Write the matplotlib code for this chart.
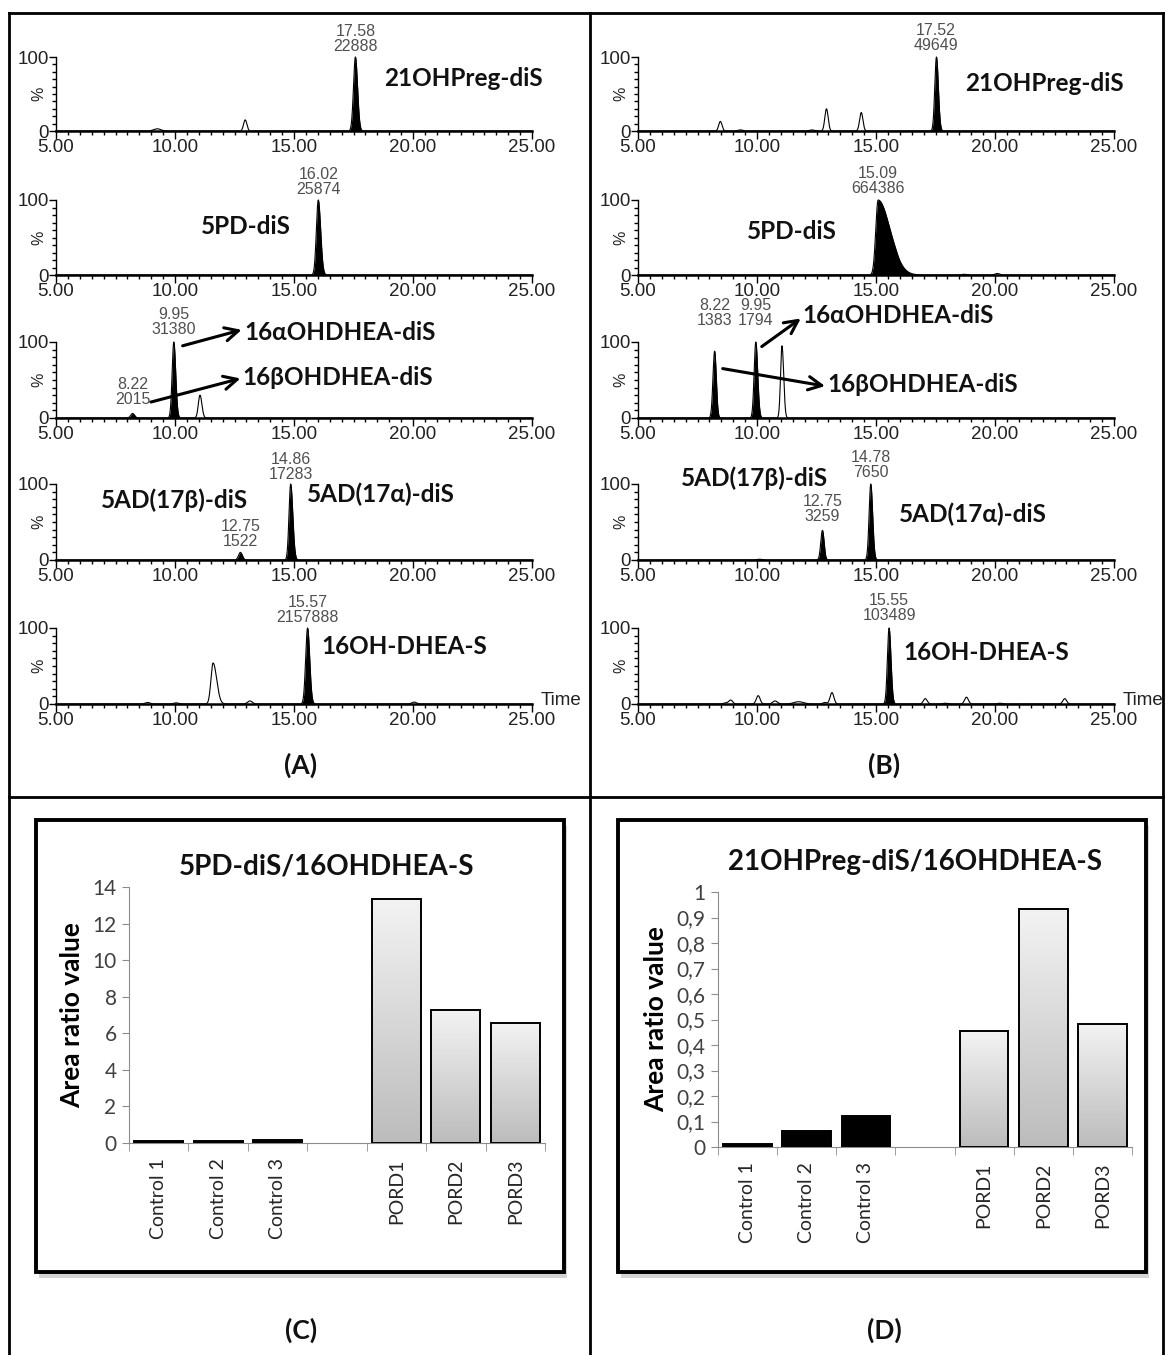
import numpy as np
import matplotlib
matplotlib.use("Agg")
import matplotlib.pyplot as plt
from matplotlib.patches import Rectangle
from matplotlib.lines import Line2D
from matplotlib.colors import LinearSegmentedColormap
from matplotlib.ticker import FixedLocator, MultipleLocator, FuncFormatter

# ---- chromatogram peaks: (retention time, height %, left width, right width, integrated) ----
peaks_A1 = [(9.25, 3, 0.15, 0.15, False), (12.95, 15, 0.07, 0.07, False), (17.58, 100, 0.08, 0.09, True)]
peaks_A2 = [(16.02, 100, 0.08, 0.1, True)]
peaks_A3 = [(8.22, 6, 0.08, 0.08, True), (9.95, 100, 0.07, 0.08, True), (11.05, 30, 0.07, 0.08, False)]
peaks_A4 = [(12.75, 10, 0.08, 0.08, True), (14.86, 100, 0.07, 0.09, True)]
peaks_A5 = [(8.85, 2, 0.1, 0.1, False), (10.05, 1.5, 0.1, 0.1, False), (11.6, 54, 0.09, 0.15, False),
            (13.15, 4, 0.1, 0.1, False), (15.57, 100, 0.08, 0.09, True), (20.05, 2.5, 0.1, 0.1, False)]

peaks_B1 = [(8.46, 13, 0.07, 0.07, False), (9.3, 1.5, 0.1, 0.1, False), (12.3, 1.5, 0.1, 0.1, False),
            (12.92, 30, 0.07, 0.07, False), (14.38, 25, 0.07, 0.07, False), (17.54, 100, 0.07, 0.08, True)]
peaks_B2 = [(15.09, 100, 0.1, 0.5, True), (15.8, 1.5, 0.1, 0.1, False), (18.7, 1, 0.1, 0.1, False),
            (20.1, 2, 0.1, 0.1, False)]
peaks_B3 = [(8.22, 88, 0.07, 0.07, True), (9.95, 100, 0.07, 0.08, True), (11.05, 95, 0.06, 0.07, False)]
peaks_B4 = [(10.1, 1, 0.1, 0.1, False), (12.75, 39, 0.07, 0.07, True), (14.78, 100, 0.07, 0.08, True)]
peaks_B5 = [(8.7, 1.5, 0.1, 0.1, False), (8.9, 5, 0.08, 0.08, False), (10.05, 11, 0.08, 0.08, False),
            (10.76, 4, 0.1, 0.1, False), (11.75, 3, 0.2, 0.2, False), (12.85, 2, 0.08, 0.08, False),
            (13.15, 15, 0.08, 0.08, False), (15.55, 100, 0.07, 0.08, True), (17.07, 7, 0.08, 0.08, False),
            (17.9, 1, 0.1, 0.1, False), (18.8, 9, 0.08, 0.08, False), (20.2, 1, 0.1, 0.1, False),
            (22.93, 7, 0.08, 0.08, False)]

# ---- peak annotations: (rt text, area text) ----
ann_A1 = [("17.58", "22888")]
ann_A2 = [("16.02", "25874")]
ann_A3 = [("9.95", "31380"), ("8.22", "2015")]
ann_A4 = [("14.86", "17283"), ("12.75", "1522")]
ann_A5 = [("15.57", "2157888")]
ann_B1 = [("17.52", "49649")]
ann_B2 = [("15.09", "664386")]
ann_B3 = [("8.22", "1383"), ("9.95", "1794")]
ann_B4 = [("12.75", "3259"), ("14.78", "7650")]
ann_B5 = [("15.55", "103489")]

# ---- bar charts (empty slot between the two groups) ----
groups = ["Control 1", "Control 2", "Control 3", "", "PORD1", "PORD2", "PORD3"]
ratio_5pd = [0.1, 0.1, 0.15, np.nan, 13.35, 7.26, 6.57]
ratio_21oh = [0.011, 0.064, 0.12, np.nan, 0.453, 0.933, 0.484]

W, H = 1166, 1355
fig = plt.figure(figsize=(W / 100, H / 100), dpi=100)

BOLD = ["Lato", "Noto Sans", "DejaVu Sans"]
ARIAL = "Liberation Sans"


def px_axes(x0, x1, ytop, ybot):
    return fig.add_axes([x0 / W, 1 - ybot / H, (x1 - x0) / W, (ybot - ytop) / H])


def chrom(ax, peaks, anns, label_y, time=False):
    t = np.linspace(5, 25, 4001)
    sig = np.zeros_like(t)
    for rt, h, wl, wr, filled in peaks:
        w = np.where(t < rt, wl, wr)
        sig += h * np.exp(-0.5 * ((t - rt) / w) ** 2)
    ax.plot(t, sig, color="black", lw=0.8, clip_on=False)
    for rt, h, wl, wr, filled in peaks:
        if filled:
            m = (t > rt - 3.5 * wl) & (t < rt + 3.5 * wr)
            ax.fill_between(t[m], 0, sig[m], color="black", lw=0)
    ax.set_xlim(5, 25)
    ax.set_ylim(0, 100)
    ax.spines[["top", "right"]].set_visible(False)
    ax.spines["left"].set_linewidth(1.0)
    ax.spines["bottom"].set_linewidth(1.8)
    ax.xaxis.set_major_locator(FixedLocator([5, 10, 15, 20, 25]))
    ax.xaxis.set_minor_locator(MultipleLocator(0.5))
    ax.xaxis.set_major_formatter(FuncFormatter(lambda v, p: f"{v:.2f}"))
    ax.yaxis.set_major_locator(FixedLocator([0, 100]))
    ax.yaxis.set_minor_locator(MultipleLocator(10))
    ax.tick_params(axis="x", which="major", length=6, width=1, labelsize=13.5, pad=0)
    ax.tick_params(axis="x", which="minor", length=3, width=1)
    ax.tick_params(axis="y", which="major", length=5, width=1, labelsize=13.5, pad=0)
    ax.tick_params(axis="y", which="minor", length=3, width=1)
    for lab in ax.get_xticklabels() + ax.get_yticklabels():
        lab.set_family(ARIAL)
        lab.set_color("#222222")
    ax.text(-0.036, 0.5, "%", transform=ax.transAxes, rotation=90, ha="center", va="center",
            fontsize=11.5, family=ARIAL, color="#222222")
    for (rt, area), yb in zip(anns, label_y):
        ax.text(float(rt), yb, f"{rt}\n{area}", ha="center", va="bottom", fontsize=11.5,
                family=ARIAL, color="#505050", linespacing=1.0, clip_on=False)
    if time:
        ax.text(25.35, 5, "Time", ha="left", va="center", fontsize=13.5, family=ARIAL,
                color="#222222", clip_on=False)


def name(ax, s, x, y):
    ax.text(x, y, s, ha="left", va="center", fontsize=17.5, fontweight="bold", family=BOLD,
            color="#111111", clip_on=False)


def arrow(ax, x0, y0, x1, y1):
    ax.annotate("", xy=(x1, y1), xytext=(x0, y0), annotation_clip=False,
                arrowprops=dict(arrowstyle="->", lw=2.2, color="black", mutation_scale=24,
                                shrinkA=0, shrinkB=0))


rows = [(57, 131), (200, 275), (342, 418), (484, 560), (628, 704)]
xa = (56, 532)
xb = (638, 1114)

# ---- panel A ----
axA = [px_axes(xa[0], xa[1], r0, r1) for r0, r1 in rows]
chrom(axA[0], peaks_A1, ann_A1, [104])
name(axA[0], "21OHPreg-diS", 18.77, 71)
chrom(axA[1], peaks_A2, ann_A2, [104])
name(axA[1], "5PD-diS", 11.1, 65)
chrom(axA[2], peaks_A3, ann_A3, [106, 14])
name(axA[2], "16αOHDHEA-diS", 12.9, 113)
arrow(axA[2], 10.32, 95, 12.8, 116)
name(axA[2], "16βOHDHEA-diS", 12.82, 53)
arrow(axA[2], 8.99, 21, 12.75, 52)
chrom(axA[3], peaks_A4, ann_A4, [103, 14])
name(axA[3], "5AD(17β)-diS", 6.88, 79)
name(axA[3], "5AD(17α)-diS", 15.56, 86)
chrom(axA[4], peaks_A5, ann_A5, [104], time=True)
name(axA[4], "16OH-DHEA-S", 16.14, 76)

# ---- panel B ----
axB = [px_axes(xb[0], xb[1], r0, r1) for r0, r1 in rows]
chrom(axB[0], peaks_B1, ann_B1, [106])
name(axB[0], "21OHPreg-diS", 18.74, 64)
chrom(axB[1], peaks_B2, ann_B2, [105])
name(axB[1], "5PD-diS", 9.57, 58)
chrom(axB[2], peaks_B3, ann_B3, [118, 118])
name(axB[2], "16αOHDHEA-diS", 11.92, 135)
arrow(axB[2], 10.2, 94, 11.84, 131)
name(axB[2], "16βOHDHEA-diS", 12.94, 44)
arrow(axB[2], 8.56, 65, 12.86, 42)
chrom(axB[3], peaks_B4, ann_B4, [47, 105])
name(axB[3], "5AD(17β)-diS", 6.79, 108)
name(axB[3], "5AD(17α)-diS", 15.96, 60)
chrom(axB[4], peaks_B5, ann_B5, [107], time=True)
name(axB[4], "16OH-DHEA-S", 16.15, 68)

# ---- bar charts ----
grad = LinearSegmentedColormap.from_list("grad", ["#bcbcbc", "#f3f3f3"])


def bar_panel(box, rect, title, title_xy, values, ymax, ystep, fmt):
    bx0, bx1, by0, by1 = box
    fig.add_artist(Rectangle(((bx0 + 3) / W, 1 - (by1 + 6) / H), (bx1 - bx0) / W, (by1 - by0) / H,
                             transform=fig.transFigure, facecolor="#d4d4d4", edgecolor="none", zorder=-2))
    fig.add_artist(Rectangle((bx0 / W, 1 - by1 / H), (bx1 - bx0) / W, (by1 - by0) / H,
                             transform=fig.transFigure, facecolor="white", edgecolor="black",
                             lw=2.8, zorder=-1))
    fig.text(title_xy[0] / W, 1 - title_xy[1] / H, title, ha="center", va="center", fontsize=20,
             fontweight="bold", family=BOLD, color="#111111")
    ax = px_axes(*rect)
    ax.set_zorder(1)
    ax.patch.set_visible(False)
    pos = np.arange(len(groups))
    cols = ["black"] * 3 + ["none"] * 4
    bars = ax.bar(pos, values, width=0.82, color=cols, edgecolor="black", lw=1.4, zorder=3)
    for i, b in enumerate(bars):
        if i >= 4:
            im = ax.imshow(np.linspace(0, 1, 256).reshape(-1, 1), cmap=grad, origin="lower",
                           extent=[b.get_x(), b.get_x() + b.get_width(), 0, b.get_height()],
                           aspect="auto", zorder=2)
            im.set_clip_path(b)
    ax.set_xlim(-0.5, len(groups) - 0.5)
    ax.set_ylim(0, ymax)
    ax.set_yticks(np.arange(0, ymax + ystep / 2, ystep))
    ax.yaxis.set_major_formatter(FuncFormatter(fmt))
    ax.set_xticks(pos)
    ax.set_xticklabels(groups, rotation=90, fontsize=14, family=BOLD, color="#262626")
    ax.set_xticks(np.arange(-0.5, len(groups), 1), minor=True)
    ax.tick_params(axis="x", which="major", length=0, pad=11)
    ax.tick_params(axis="x", which="minor", length=6, color="#8c8c8c")
    ax.tick_params(axis="y", length=5, color="#8c8c8c", labelsize=15, labelcolor="#404040", pad=4)
    for lab in ax.get_yticklabels():
        lab.set_family(BOLD)
    ax.spines[["top", "right"]].set_visible(False)
    ax.spines[["left", "bottom"]].set_color("#8c8c8c")
    ax.set_ylabel("Area ratio value", fontsize=19, fontweight="bold", family=BOLD, labelpad=6)
    return ax


bar_panel((36, 564, 820, 1272), (129, 545, 887, 1143), "5PD-diS/16OHDHEA-S", (327, 866),
          ratio_5pd, 14, 2, lambda v, p: f"{v:.0f}")
bar_panel((618, 1146, 820, 1272), (718, 1132, 892, 1147), "21OHPreg-diS/16OHDHEA-S", (915, 862),
          ratio_21oh, 1, 0.1, lambda v, p: ("%g" % round(v, 1)).replace(".", ","))

# ---- panel letters ----
for s, x, y in [("(A)", 301, 765), ("(B)", 884, 765), ("(C)", 301, 1330), ("(D)", 884, 1330)]:
    fig.text(x / W, 1 - y / H, s, ha="center", va="center", fontsize=19, fontweight="bold",
             family=BOLD, color="#111111")

# ---- frame grid ----
for x in (9, 590, 1163):
    fig.add_artist(Line2D([x / W, x / W], [0, 1 - 13 / H], color="black", lw=2, transform=fig.transFigure))
for y in (13, 797):
    fig.add_artist(Line2D([9 / W, 1163 / W], [1 - y / H, 1 - y / H], color="black", lw=2,
                          transform=fig.transFigure))

fig.savefig("out.png", dpi=100)
